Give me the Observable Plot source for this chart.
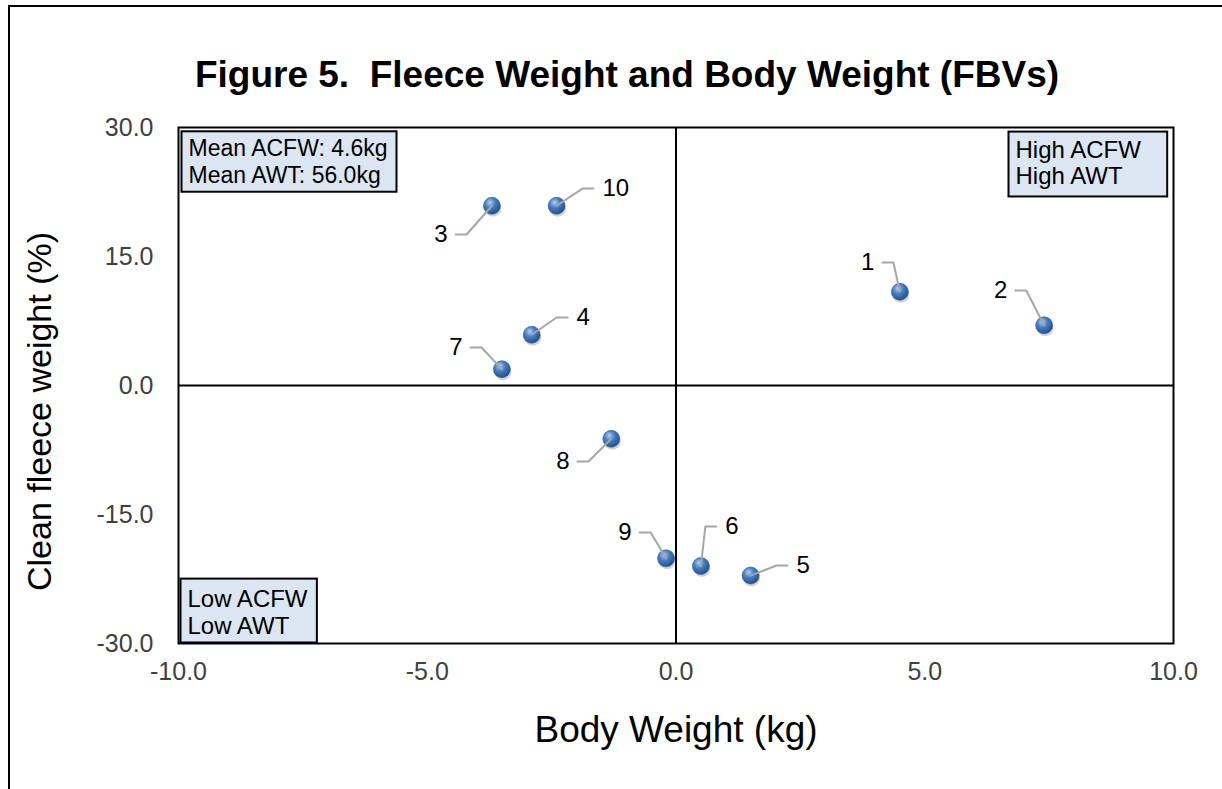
<!DOCTYPE html>
<html><head><meta charset="utf-8">
<script src="https://cdn.jsdelivr.net/npm/d3@7"></script>
<script src="https://cdn.jsdelivr.net/npm/@observablehq/plot@0.6"></script>
<style>
html,body{margin:0;padding:0;background:#fff;overflow:hidden;}
body{width:1222px;height:789px;position:relative;font-family:"Liberation Sans",Arial,sans-serif;}
#frame{position:absolute;left:8px;top:5px;width:1400px;height:1000px;border:2px solid #000;}
#title{position:absolute;left:0;width:1254px;top:56px;line-height:38px;text-align:center;font-weight:bold;font-size:37px;color:#000;white-space:pre;}
#chart{position:absolute;left:0;top:100px;}
</style></head><body>
<div id="frame"></div>
<div id="title">Figure 5.  Fleece Weight and Body Weight (FBVs)</div>
<div id="chart"></div>
<script>
// Data
const ids = [1, 2, 3, 4, 5, 6, 7, 8, 9, 10];
const bodyWeight = [4.5, 7.4, -3.7, -2.9, 1.5, 0.5, -3.5, -1.3, -0.2, -2.4];     // kg
const fleeceWeight = [10.9, 7.0, 20.9, 5.9, -22.1, -21.0, 1.9, -6.2, -20.1, 20.9]; // %
// data-label anchor positions (chart units) and which side of the leader the label sits
const labelX = [4.15, 6.82, -4.43, -2.18, 2.24, 0.81, -4.13, -1.98, -0.73, -1.66];
const labelY = [14.3, 11.05, 17.56, 7.91, -20.93, -16.4, 4.42, -8.84, -17.1, 22.9];
const labelSide = ["left", "left", "left", "right", "right", "right", "left", "left", "left", "right"];
const xTicks = [-10, -5, 0, 5, 10];
const yTicks = [-30, -15, 0, 15, 30];
const xTitle = "Body Weight (kg)";
const yTitle = "Clean fleece weight (%)";
const noteMean = "Mean ACFW: 4.6kg\nMean AWT: 56.0kg";
const noteHigh = "High ACFW\nHigh AWT";
const noteLow = "Low ACFW\nLow AWT";

const points = ids.map((id, i) => ({id, x: bodyWeight[i], y: fleeceWeight[i]}));
const labels = ids.map((id, i) => ({id, x: labelX[i], y: labelY[i], side: labelSide[i]}));
const elbow = 0.22;
const leaders = labels.flatMap((l, i) => [
  {id: l.id, x: l.x, y: l.y},
  {id: l.id, x: l.x + (l.side === "left" ? elbow : -elbow), y: l.y},
  {id: l.id, x: points[i].x, y: points[i].y}
]);

const fmt = d3.formatLocale({decimal: ".", thousands: ",", grouping: [3], currency: ["", ""], minus: "-"}).format(".1f");
const font = '"Liberation Sans", Arial, sans-serif';
const plot = Plot.plot({
  width: 1222,
  height: 689,
  marginTop: 27,
  marginLeft: 178,
  marginRight: 49,
  marginBottom: 146,
  style: {fontFamily: font, background: "transparent", overflow: "visible"},
  x: {domain: [-10, 10]},
  y: {domain: [-30, 30]},
  marks: [
    Plot.axisX({ticks: xTicks, tickFormat: fmt, tickSize: 0, tickPadding: 19, fontSize: 25, label: null, color: "#404040"}),
    Plot.axisY({ticks: yTicks, tickFormat: fmt, tickSize: 0, tickPadding: 25, fontSize: 25, label: null, color: "#404040"}),
    Plot.ruleX([0], {stroke: "#000", strokeWidth: 2}),
    Plot.ruleY([0], {stroke: "#000", strokeWidth: 2}),
    Plot.frame({stroke: "#000", strokeWidth: 2}),
    Plot.text([noteMean], {text: d => d, frameAnchor: "top-left", textAnchor: "start", lineAnchor: "top", dx: 10, dy: 10, fontSize: 23, lineHeight: 1.15, fill: "#000", className: "note"}),
    Plot.text([noteHigh], {text: d => d, frameAnchor: "top-right", textAnchor: "start", lineAnchor: "top", dx: -158, dy: 11, fontSize: 24, lineHeight: 1.12, fill: "#000", className: "note"}),
    Plot.text([noteLow], {text: d => d, frameAnchor: "bottom-left", textAnchor: "start", lineAnchor: "bottom", dx: 9, dy: -10, fontSize: 24, lineHeight: 1.12, fill: "#000", className: "note"}),
    Plot.dot(points, {x: "x", y: "y", r: 8.5, fill: "#000", fillOpacity: 0.18, dx: 1, dy: 2.5}),
    Plot.dot(points, {x: "x", y: "y", r: 8.5, fill: "url(#sphere)", stroke: "#2f5f98", strokeWidth: 0.6}),
    Plot.line(leaders, {x: "x", y: "y", z: "id", stroke: "#a6a6a6", strokeWidth: 2, curve: "linear"}),
    Plot.text(labels.filter(d => d.side === "left"), {x: "x", y: "y", text: "id", textAnchor: "end", dx: -8, fontSize: 24, fill: "#000"}),
    Plot.text(labels.filter(d => d.side === "right"), {x: "x", y: "y", text: "id", textAnchor: "start", dx: 9, fontSize: 24, fill: "#000"}),
    Plot.text([xTitle], {text: d => d, frameAnchor: "bottom", lineAnchor: "bottom", dy: 98, fontSize: 37, fill: "#000"}),
    Plot.text([yTitle], {text: d => d, frameAnchor: "left", textAnchor: "middle", rotate: -90, dx: -138, dy: 26, fontSize: 34, fill: "#000"})
  ]
});
document.getElementById("chart").appendChild(plot);

// gradient for the sphere-like markers
const svg = d3.select(plot);
const defs = svg.insert("defs", ":first-child");
const g = defs.append("radialGradient").attr("id", "sphere").attr("cx", "40%").attr("cy", "35%").attr("r", "65%").attr("fx", "38%").attr("fy", "30%");
g.append("stop").attr("offset", "0%").attr("stop-color", "#b3d0f3");
g.append("stop").attr("offset", "45%").attr("stop-color", "#4a7fc4");
g.append("stop").attr("offset", "100%").attr("stop-color", "#234f8a");

// boxes behind the annotation notes
svg.selectAll(".note text").each(function() {
  const b = this.getBBox();
  const t = this.textContent;
  const padL = 7, padR = t.startsWith("High") ? 26 : 9;
  const padT = t.startsWith("Low") ? 6 : 4, padB = t.startsWith("High") ? 7 : 4;
  d3.select(this.parentNode).insert("rect", () => this)
    .attr("transform", this.getAttribute("transform"))
    .attr("x", b.x - padL).attr("y", b.y - padT)
    .attr("width", b.width + padL + padR).attr("height", b.height + padT + padB)
    .attr("fill", "#dce6f2").attr("stroke", "#000").attr("stroke-width", 2);
});
</script>
</body></html>
